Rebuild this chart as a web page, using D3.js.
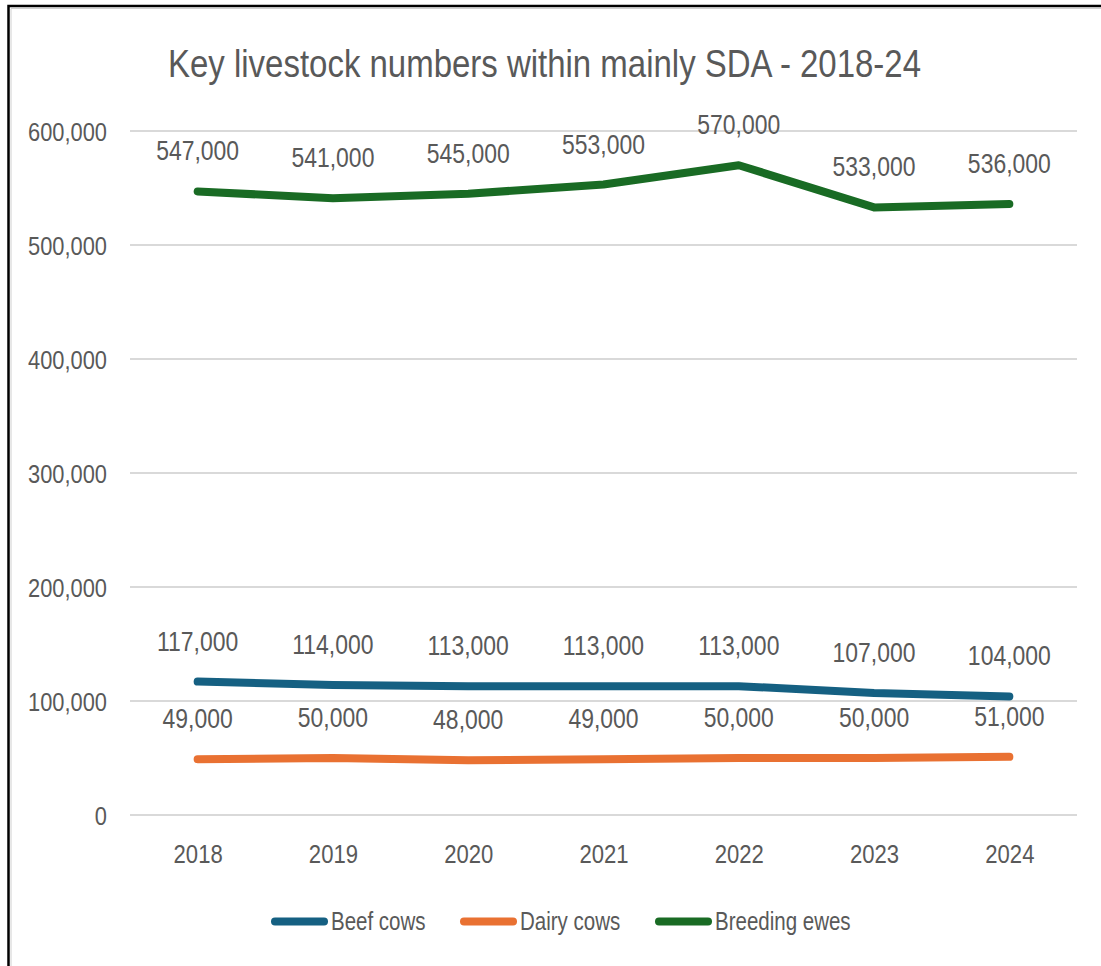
<!DOCTYPE html>
<html>
<head>
<meta charset="utf-8">
<script src="https://cdn.jsdelivr.net/npm/d3@7"></script>
<style>
  html, body { margin: 0; padding: 0; background: #fff; }
  svg { display: block; }
  text { font-family: "Liberation Sans", Arial, sans-serif; fill: #595959; }
</style>
</head>
<body>
<svg id="chart" width="1101" height="966"></svg>
<script>
const years = ["2018", "2019", "2020", "2021", "2022", "2023", "2024"];
const beefCows = [117000, 114000, 113000, 113000, 113000, 107000, 104000];
const dairyCows = [49000, 50000, 48000, 49000, 50000, 50000, 51000];
const breedingEwes = [547000, 541000, 545000, 553000, 570000, 533000, 536000];
const yTicks = [0, 100000, 200000, 300000, 400000, 500000, 600000];
const seriesNames = ["Beef cows", "Dairy cows", "Breeding ewes"];
const seriesColors = ["#156082", "#E97132", "#196B24"];
const title = "Key livestock numbers within mainly SDA - 2018-24";

const series = [beefCows, dairyCows, breedingEwes].map((vals, i) => ({
  name: seriesNames[i], color: seriesColors[i], values: vals
}));

const svg = d3.select("#chart");
const fmt = d3.format(",");

// narrow-font emulation: compress glyphs horizontally
function condense(sel, k) {
  sel.each(function () {
    const w = this.getComputedTextLength();
    d3.select(this).attr("textLength", w * k).attr("lengthAdjust", "spacingAndGlyphs");
  });
}

// frame
svg.append("path").attr("d", "M8.5,966 L8.5,6 L1101,6")
  .attr("fill", "none").attr("stroke", "#000").attr("stroke-width", 2.5);
svg.append("path").attr("d", "M11,966 L11,8.5 L1101,8.5")
  .attr("fill", "none").attr("stroke", "#d0d0d0").attr("stroke-width", 1);

const x = d3.scalePoint().domain(years).range([130, 1077]).padding(0.5);
const y = d3.scaleLinear().domain([0, 600000]).range([815, 131]);

// title
svg.append("text").attr("x", 544.5).attr("y", 77).attr("text-anchor", "middle")
  .attr("font-size", 39).attr("textLength", 753).attr("lengthAdjust", "spacingAndGlyphs")
  .text(title);

// y axis labels
const yAxis = d3.axisLeft(y).tickValues(yTicks).tickSize(0).tickFormat(d => fmt(d));
const gy = svg.append("g").attr("transform", "translate(107,0)").call(yAxis);
gy.select(".domain").remove();
gy.attr("font-family", null).attr("font-size", null);
gy.selectAll("text").attr("font-size", 26).attr("dy", null).attr("y", 9).attr("x", 0)
  .attr("fill", "#595959").call(condense, 0.84);

// gridlines
svg.append("g").selectAll("line").data(yTicks).join("line")
  .attr("x1", 130).attr("x2", 1077)
  .attr("y1", d => y(d)).attr("y2", d => y(d))
  .attr("stroke", "#d9d9d9").attr("stroke-width", 2);

// x axis labels
const xAxis = d3.axisBottom(x).tickSize(0);
const gx = svg.append("g").attr("transform", "translate(0,815)").call(xAxis);
gx.select(".domain").remove();
gx.attr("font-family", null).attr("font-size", null);
gx.selectAll("text").attr("font-size", 26).attr("dy", null).attr("y", 47.5)
  .attr("fill", "#595959").call(condense, 0.85);

// lines
const line = d3.line().x((d, i) => x(years[i])).y(d => y(d));
svg.append("g").selectAll("path").data(series).join("path")
  .attr("d", d => line(d.values))
  .attr("fill", "none").attr("stroke", d => d.color)
  .attr("stroke-width", 8).attr("stroke-linecap", "round").attr("stroke-linejoin", "round");

// data labels
series.forEach(s => {
  svg.append("g").selectAll("text").data(s.values).join("text")
    .attr("x", (d, i) => x(years[i]))
    .attr("y", d => y(d) - 31)
    .attr("text-anchor", "middle").attr("font-size", 27)
    .text(d => fmt(d))
    .call(condense, 0.85);
});

// legend
const legendItems = [
  { name: seriesNames[0], color: seriesColors[0], x0: 271 },
  { name: seriesNames[1], color: seriesColors[1], x0: 460 },
  { name: seriesNames[2], color: seriesColors[2], x0: 655 }
];
const lg = svg.append("g");
legendItems.forEach(it => {
  lg.append("line").attr("x1", it.x0 + 4).attr("x2", it.x0 + 53)
    .attr("y1", 921.5).attr("y2", 921.5)
    .attr("stroke", it.color).attr("stroke-width", 8).attr("stroke-linecap", "round");
  lg.append("text").attr("x", it.x0 + 60).attr("y", 929.5).attr("font-size", 25)
    .text(it.name).call(condense, 0.82);
});
</script>
</body>
</html>
